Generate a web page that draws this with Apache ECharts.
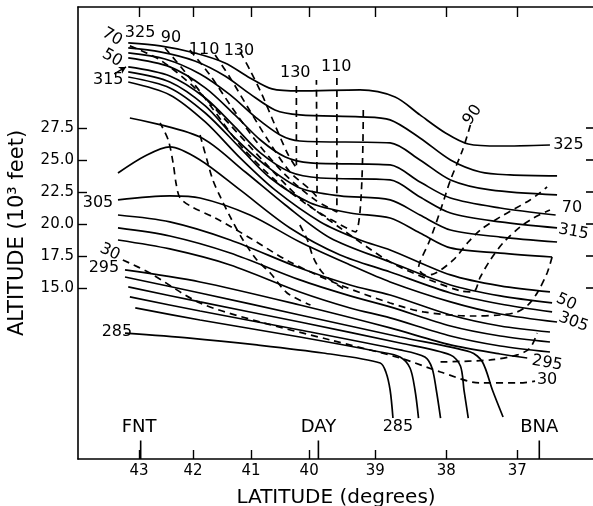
<!DOCTYPE html>
<html><head><meta charset="utf-8">
<script src="https://cdn.jsdelivr.net/npm/echarts@6/dist/echarts.min.js"></script>
<style>html,body{margin:0;padding:0;background:#fff}#c{width:593px;height:506px}</style>
</head><body><div id="c"></div>
<script>
// ---- axes ----
const latTicks = [43, 42, 41, 40, 39, 38, 37];
const latTickDist = [0, 54, 112, 170, 236, 307, 378]; // distance along the section (arbitrary units)
const latRange = [44.13, 35.92];
const altTicks = [15, 17.5, 20, 22.5, 25, 27.5];
const altRange = [1.64, 36.95];

// ---- stations ----
const stationNames = ['FNT', 'DAY', 'BNA'];
const stationLat = [42.97, 39.86, 36.69];

// ---- potential temperature isentropes (solid): [lat, altitude 10^3 ft] ----
const th325 = [[43.20,34.14],[42.61,33.91],[41.97,33.36],[41.45,32.58],[41.02,31.41],[40.64,30.55],[40.16,30.39],[39.23,30.47],[38.72,29.92],[38.37,28.52],[38.01,27.11],[37.69,26.25],[37.24,26.09],[36.54,26.17]];
const th322 = [[43.20,33.75],[42.61,33.44],[41.97,32.73],[41.45,31.56],[41.02,30.16],[40.59,28.91],[40.16,28.52],[39.23,28.36],[38.79,28.13],[38.37,26.72],[37.94,25.00],[37.52,24.06],[37.10,23.83],[36.44,23.75]];
const th320 = [[43.20,33.36],[42.52,32.89],[41.88,31.72],[41.36,30.08],[40.93,28.36],[40.50,26.95],[40.16,26.48],[38.79,26.33],[38.37,25.00],[37.94,23.44],[37.38,22.66],[36.44,22.27]];
const th317 = [[43.20,32.97],[42.43,32.27],[41.79,30.63],[41.28,28.52],[40.84,26.56],[40.41,25.23],[39.98,24.77],[38.79,24.61],[38.37,23.28],[37.94,22.03],[37.24,21.25],[36.46,20.70]];
const th315 = [[43.20,32.27],[42.43,31.56],[41.79,29.84],[41.28,27.58],[40.84,25.55],[40.33,24.06],[39.83,23.59],[38.79,23.44],[38.37,22.11],[37.94,20.86],[37.24,20.16],[36.44,19.69]];
const th312 = [[43.20,31.88],[42.43,31.09],[41.79,29.22],[41.28,26.72],[40.76,24.61],[40.16,22.81],[39.53,22.19],[38.79,21.88],[38.37,20.70],[37.94,19.53],[37.24,18.98],[36.44,18.59]];
const th310 = [[43.20,31.48],[42.43,30.63],[41.79,28.67],[41.19,25.94],[40.67,23.59],[39.98,21.64],[39.38,20.86],[38.79,20.47],[38.37,19.30],[37.94,18.13],[37.24,17.73],[36.51,17.42]];
const thF1 = [[43.20,31.09],[42.43,30.08],[41.79,27.97],[41.19,25.16],[40.59,22.66],[39.83,20.16],[39.23,18.75],[38.79,17.97],[37.94,16.02],[37.24,15.16],[36.54,14.69]];
const thF2 = [[43.17,28.28],[41.88,26.80],[41.10,24.06],[40.41,21.48],[39.68,18.91],[38.79,17.03],[37.94,15.23],[37.24,14.38],[36.51,13.83]];
const thF3 = [[43.39,23.98],[42.89,25.31],[42.43,26.02],[41.88,25.00],[41.19,22.66],[40.33,19.69],[39.53,17.58],[38.79,16.25],[37.94,14.61],[37.24,13.75],[36.51,13.13]];
const th305 = [[43.39,21.88],[42.43,22.19],[41.88,22.03],[41.02,20.70],[40.16,18.59],[39.38,16.80],[38.79,15.47],[37.94,13.91],[37.24,12.97],[36.44,12.34]];
const thF5 = [[43.39,20.70],[42.43,20.16],[41.36,18.75],[40.16,16.56],[39.38,15.23],[38.79,14.45],[37.94,12.89],[37.24,12.03],[36.54,11.56]];
const thF6 = [[43.39,19.69],[42.43,19.06],[41.36,17.73],[40.16,15.63],[39.38,14.38],[38.79,13.52],[37.94,12.03],[37.24,11.25],[36.54,10.78]];
const thF7 = [[43.39,18.75],[42.43,18.05],[41.36,16.80],[40.16,14.69],[39.38,13.44],[38.79,12.66],[37.94,11.25],[37.24,10.47],[36.54,10.00]];
const th295 = [[43.26,16.41],[41.88,15.47],[40.16,13.67],[38.79,11.88],[37.94,10.55],[37.24,9.84],[36.86,9.53]];
const thL4 = [[43.26,15.86],[41.88,14.61],[40.16,12.89],[38.65,11.17],[37.66,10.00],[37.49,9.22],[37.35,7.03],[37.20,4.92]];
const thL3 = [[43.20,15.08],[41.88,13.91],[40.16,12.34],[38.65,10.70],[37.94,9.77],[37.80,8.91],[37.75,7.03],[37.69,4.84]];
const thL2 = [[43.17,14.30],[41.88,13.20],[40.16,11.72],[38.65,10.16],[38.30,9.61],[38.20,8.75],[38.14,7.03],[38.08,4.84]];
const thL1 = [[43.07,13.44],[41.88,12.50],[40.16,11.17],[38.93,10.00],[38.65,9.61],[38.51,8.75],[38.44,7.03],[38.39,4.84]];
const th285 = [[43.26,11.48],[42.06,11.09],[40.90,10.55],[39.79,9.92],[38.93,9.14],[38.85,8.44],[38.79,7.03],[38.75,4.84]];

// ---- wind speed isotachs (dashed, knots) ----
const ws30 = [[43.30,17.19],[42.80,16.17],[41.88,13.83],[40.84,12.34],[39.68,10.94],[38.65,9.53],[38.08,8.44],[37.52,7.58],[36.96,7.58],[36.75,7.73]];
const ws30b = [[38.08,9.22],[37.38,9.38],[37.00,9.77],[36.82,10.31],[36.72,11.48]];
const ws50 = [[36.51,17.42],[36.58,16.17],[36.72,14.61],[36.85,13.67],[37.00,13.13],[37.24,12.89],[37.62,12.81],[38.32,13.13],[38.79,13.83],[39.53,15.23],[40.33,17.03],[41.02,18.91],[41.62,20.47],[42.02,21.33],[42.24,22.03],[42.31,23.05],[42.37,24.77],[42.46,26.56],[42.61,27.89]];
const ws50b = [[41.88,26.95],[41.76,25.00],[41.66,23.44],[41.53,22.11],[41.36,20.55],[41.14,18.75],[40.90,17.19],[40.67,16.17],[40.38,14.61],[39.98,13.67]];
const ws50c = [[40.16,19.92],[40.03,18.75],[39.94,17.42],[39.83,16.41],[39.68,15.63],[39.45,14.84]];
const ws70 = [[43.17,33.91],[42.61,32.81],[41.97,30.63],[41.36,27.73],[40.76,24.77],[40.16,22.03],[39.53,19.69],[38.79,17.03],[38.23,15.63],[37.80,14.77],[37.62,14.69],[37.52,15.86],[37.38,17.19],[37.20,18.52],[36.96,19.77],[36.77,20.47],[36.54,21.09]];
const ws90 = [[42.52,33.75],[42.15,31.88],[41.71,29.30],[41.19,26.17],[40.59,23.44],[39.91,21.09],[39.30,19.38],[39.18,29.30]];
const ws90r = [[37.66,27.73],[37.77,25.78],[37.94,23.44],[38.08,21.09],[38.23,18.75],[38.37,17.03],[38.39,16.56],[38.30,16.02],[38.18,16.09],[37.90,17.19],[37.70,18.52],[37.52,19.53],[37.24,20.55],[36.82,21.88],[36.58,22.89]];
const ws110a = [[41.62,33.20],[41.36,31.41],[41.05,29.06],[40.71,26.56],[40.33,24.06],[39.98,22.66],[39.88,22.11],[39.89,31.25]];
const ws110b = [[42.06,33.59],[41.71,31.64],[41.36,29.30],[40.93,26.56],[40.41,23.83],[39.91,21.88],[39.58,20.94],[39.58,31.41]];
const ws130 = [[41.19,33.44],[41.02,32.03],[40.81,30.08],[40.59,27.73],[40.36,25.39],[40.22,24.38],[40.22,30.86]];

// ---- contour labels: [text, lat, alt, rotation] ----
const contourLabels = [
  ['70',43.50,34.61,-30],['325',42.98,34.92,0],['90',42.41,34.53,0],['110',41.81,33.59,0],['130',41.21,33.52,0],
  ['50',43.50,32.97,-30],['315',43.57,31.25,0],['130',40.24,31.80,0],['110',39.59,32.27,0],['90',37.63,28.52,55],
  ['325',36.28,26.17,0],['70',36.23,21.25,0],['315',36.21,19.38,-10],['50',36.31,13.91,-25],['305',36.21,12.34,-20],
  ['295',36.58,9.14,-10],['30',36.58,7.81,0],['285',38.68,4.14,0],['305',43.76,21.64,0],['30',43.54,17.81,-25],
  ['295',43.65,16.56,0],['285',43.41,11.56,0]
];
const pointer315 = [[43.46,31.72],[43.24,32.27]];

function latToDist(lat) {
  let i;
  if (lat >= latTicks[0]) i = 0;
  else if (lat <= latTicks[latTicks.length - 1]) i = latTicks.length - 2;
  else { for (i = 0; i < latTicks.length - 1; i++) if (lat <= latTicks[i] && lat >= latTicks[i + 1]) break; }
  const t = (latTicks[i] - lat) / (latTicks[i] - latTicks[i + 1]);
  return latTickDist[i] + t * (latTickDist[i + 1] - latTickDist[i]);
}
const toXY = pts => pts.map(p => [latToDist(p[0]), p[1]]);
const FONT = 'DejaVu Sans';
const INK = '#000';

function line(pts, dashed) {
  return { type: 'line', data: toXY(pts), symbol: 'none', showSymbol: false, smooth: 0.3, silent: true,
    lineStyle: { color: INK, width: 1.7, type: dashed ? [7, 5] : 'solid' } };
}
const solids = [th325, th322, th320, th317, th315, th312, th310, thF1, thF2, thF3, th305, thF5, thF6, thF7, th295, thL4, thL3, thL2, thL1, th285];
const dashes = [ws30, ws30b, ws50, ws50b, ws50c, ws70, ws90, ws90r, ws110a, ws110b, ws130];
const series = [];
solids.forEach(s => series.push(line(s, false)));
dashes.forEach(s => series.push(line(s, true)));
stationLat.forEach(lat => series.push({ type: 'line', data: toXY([[lat, altRange[0]], [lat, altRange[0] + 1.45]]), symbol: 'none', silent: true, lineStyle: { color: INK, width: 1.6 } }));
const ptr = toXY(pointer315);
series.push({ type: 'line', silent: true, showSymbol: true, lineStyle: { color: INK, width: 1.4 }, itemStyle: { color: INK },
  data: [{ value: ptr[0], symbol: 'none' }, { value: ptr[1], symbol: 'arrow', symbolSize: [6, 7], symbolRotate: -60 }] });
const clear = { color: 'rgba(255,255,255,0)' };
const txt = { show: true, position: 'inside', formatter: p => p.name, color: INK, fontFamily: FONT, textBorderWidth: 0, opacity: 1 };
series.push({ type: 'scatter', symbol: 'circle', symbolSize: 2, itemStyle: clear, silent: true, z: 5,
  data: contourLabels.map(l => ({ value: [latToDist(l[1]), l[2]], name: l[0], label: { rotate: l[3] } })),
  label: Object.assign({}, txt, { fontSize: 16 }) });
series.push({ type: 'scatter', symbol: 'circle', symbolSize: 2, itemStyle: clear, silent: true, z: 5,
  data: stationNames.map((n, i) => ({ value: [latToDist(stationLat[i] + (i === 0 ? 0.03 : 0)), 4.14], name: n })),
  label: Object.assign({}, txt, { fontSize: 18 }) });

const xTickVals = latTicks.map(latToDist);
const xLabel = v => { let best = 0; xTickVals.forEach((t, i) => { if (Math.abs(t - v) < Math.abs(xTickVals[best] - v)) best = i; }); return String(latTicks[best]); };
const xMin = latToDist(latRange[0]), xMax = latToDist(latRange[1]);
const axisLine = { show: true, onZero: false, lineStyle: { color: INK, width: 1.6 } };

const chart = echarts.init(document.getElementById('c'), null, { renderer: 'canvas' });
chart.setOption({
  animation: false,
  backgroundColor: '#fff',
  grid: { left: 78, top: 7, width: 516, height: 452, containLabel: false, outerBoundsMode: 'none' },
  xAxis: [
    { type: 'value', position: 'bottom', min: xMin, max: xMax, axisLine, splitLine: { show: false },
      axisTick: { show: true, inside: true, length: 9, customValues: xTickVals, lineStyle: { color: INK, width: 1.4 } },
      axisLabel: { show: true, customValues: xTickVals, formatter: xLabel, color: INK, fontFamily: FONT, fontSize: 15, margin: 5 },
      name: 'LATITUDE (degrees)', nameLocation: 'middle', nameGap: 29, nameTextStyle: { color: INK, fontFamily: FONT, fontSize: 20 } },
    { type: 'value', position: 'top', min: xMin, max: xMax, axisLine, splitLine: { show: false },
      axisTick: { show: true, inside: true, length: 10, customValues: xTickVals, lineStyle: { color: INK, width: 1.4 } },
      axisLabel: { show: false } }
  ],
  yAxis: [
    { type: 'value', position: 'left', min: altRange[0], max: altRange[1], axisLine, splitLine: { show: false },
      axisTick: { show: true, inside: true, length: 9, customValues: altTicks, lineStyle: { color: INK, width: 1.4 } },
      axisLabel: { show: true, customValues: altTicks, formatter: v => v.toFixed(1), color: INK, fontFamily: FONT, fontSize: 15, margin: 4 },
      name: 'ALTITUDE (10\u00b3 feet)', nameLocation: 'middle', nameGap: 50, nameRotate: 90, nameTextStyle: { color: INK, fontFamily: FONT, fontSize: 21 } },
    { type: 'value', position: 'right', min: altRange[0], max: altRange[1], axisLine: { show: false, onZero: false }, splitLine: { show: false },
      axisTick: { show: true, inside: true, length: 8, customValues: altTicks, lineStyle: { color: INK, width: 1.6 } },
      axisLabel: { show: false } }
  ],
  series
});
</script></body></html>
